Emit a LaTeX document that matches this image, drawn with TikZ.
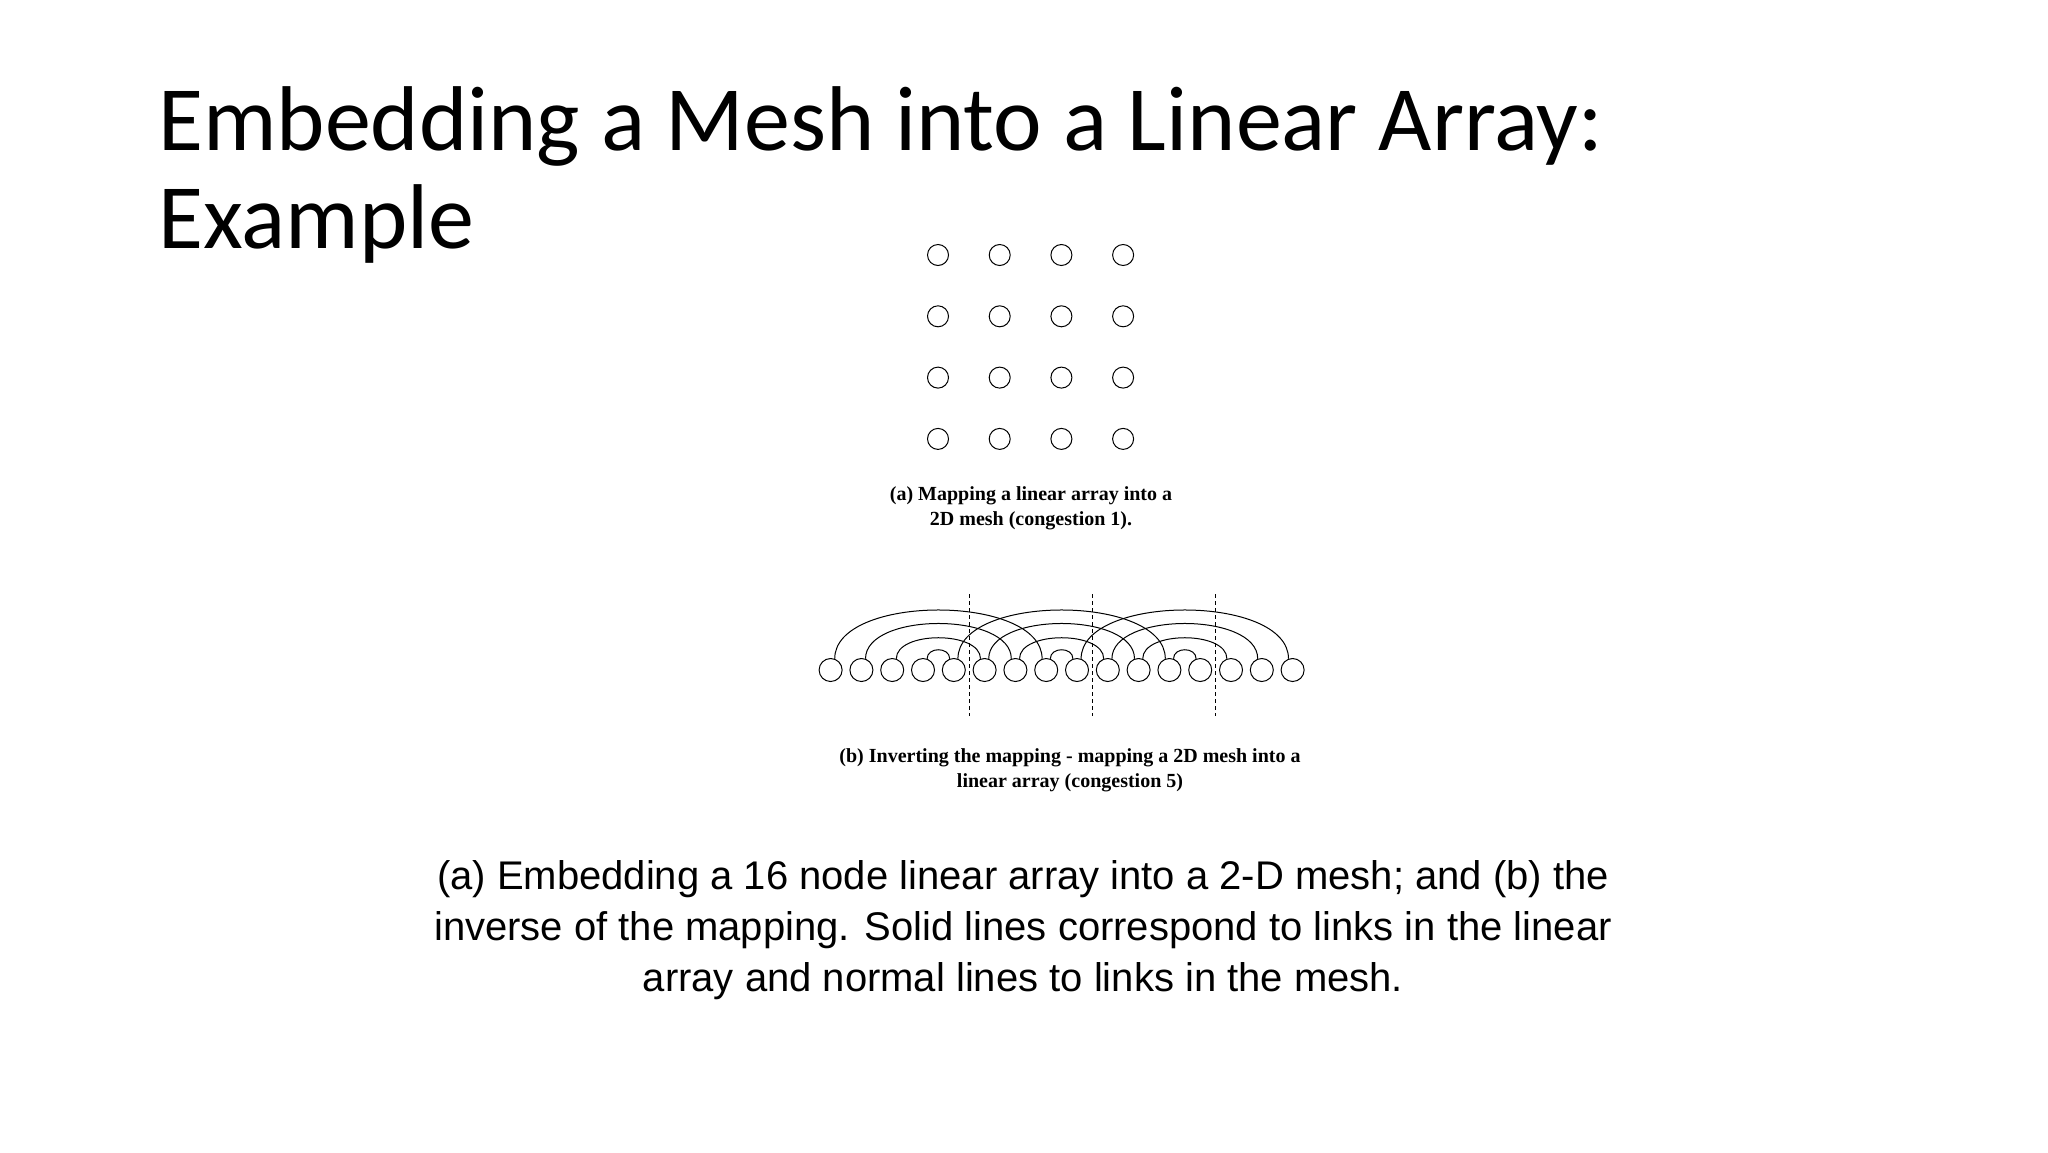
\documentclass[tikz,border=0pt]{standalone}
\usepackage{fontspec}
\setmainfont{Carlito}
\newfontfamily\arialf{Liberation Sans}
\newfontfamily\timesf{Liberation Serif}
\usetikzlibrary{backgrounds}
\begin{document}
\begin{tikzpicture}[x=0.5pt,y=-0.5pt,
  mn/.style={circle,draw,fill=white,inner sep=0,minimum size=10.5pt,line width=0.5pt},
  ln/.style={circle,draw,fill=white,inner sep=0,minimum size=11.5pt,line width=0.5pt},
  mesh/.style={line width=0.5pt},
  dbl/.style={double,double distance=1.3pt,line width=0.4pt},
  thk/.style={line width=1.6pt},
  arcl/.style={line width=0.5pt},
  sep/.style={dashed,line width=0.4pt,dash pattern=on 2pt off 1.5pt},
  titletxt/.style={anchor=base west,font=\fontsize{46}{49}\selectfont,inner sep=0},
  captxt/.style={align=center,font=\arialf\fontsize{20}{25.5}\selectfont},
  subcap/.style={align=center,font=\timesf\bfseries\fontsize{10}{12.5}\selectfont}]
\useasboundingbox[fill=white] (0,0) rectangle (2048,1152);
\node[titletxt] (t1) at (158,150) {Embedding a Mesh into a Linear Array:};
\node[titletxt] (t2) at (158,248) {Example};
% mesh
\foreach \r in {0,...,3}{\foreach \c in {0,...,3}{
  \node[mn] (m\r\c) at ({938+61.7*\c},{255+61.3*\r}) {};}}
\begin{scope}[on background layer]
% non-path mesh edges
\foreach \c in {0,1,2}{\draw[mesh] (m0\c) -- (m1\c);}
\foreach \c in {1,2,3}{\draw[mesh] (m1\c) -- (m2\c);}
\foreach \c in {0,1,2}{\draw[mesh] (m2\c) -- (m3\c);}
% path edges
\foreach \a/\b in {00/01,01/02,02/03,13/12,12/11,11/10,20/21,21/22,22/23,33/32,32/31,31/30}{
  \draw[dbl] (m\a) -- (m\b);
  \draw[thk,transform canvas={yshift=3.5*0.5pt}] (m\a) -- (m\b);}
\foreach \a/\b in {03/13,10/20,23/33}{
  \draw[dbl] (m\a) -- (m\b);
  \draw[thk,transform canvas={xshift=3.5*0.5pt}] (m\a) -- (m\b);}
\end{scope}
\node[subcap] (capa) at (1031,508) {(a) Mapping a linear array into a\\2D mesh (congestion 1).};
% linear array
\foreach \i in {0,...,15}{\node[ln] (l\i) at ({830.6+30.8*\i},670) {};}
\begin{scope}[on background layer]
\foreach \i [evaluate=\i as \j using int(\i+1)] in {0,...,14}{
  \draw[dbl] (l\i) -- (l\j);
  \draw[thk,transform canvas={yshift=-3.5*0.5pt}] (l\i) -- (l\j);}
\end{scope}
\foreach \o in {0,4,8}{
  \foreach \k/\h in {0/65,1/47,2/28,3/12}{
    \pgfmathtruncatemacro{\aa}{\o+\k}\pgfmathtruncatemacro{\bb}{\o+7-\k}
    \draw[arcl] (l\aa.70) .. controls +(0,-\h) and +(0,-\h) .. (l\bb.110);}}
\foreach \x [count=\n] in {969,1092,1215}{
  \coordinate (st\n) at (\x,594); \coordinate (en\n) at (\x,716);
  \draw[sep] (st\n) -- (en\n);}
\node[subcap] (capb) at (1070,770) {(b) Inverting the mapping - mapping a 2D mesh into a\\linear array (congestion 5)};
\node[captxt] (cap) at (1023,930) {(a) Embedding a 16 node linear array into a 2-D mesh; and (b) the\\inverse of the mapping. Solid lines correspond to links in the linear\\array and normal lines to links in the mesh.};
\end{tikzpicture}
\end{document}
